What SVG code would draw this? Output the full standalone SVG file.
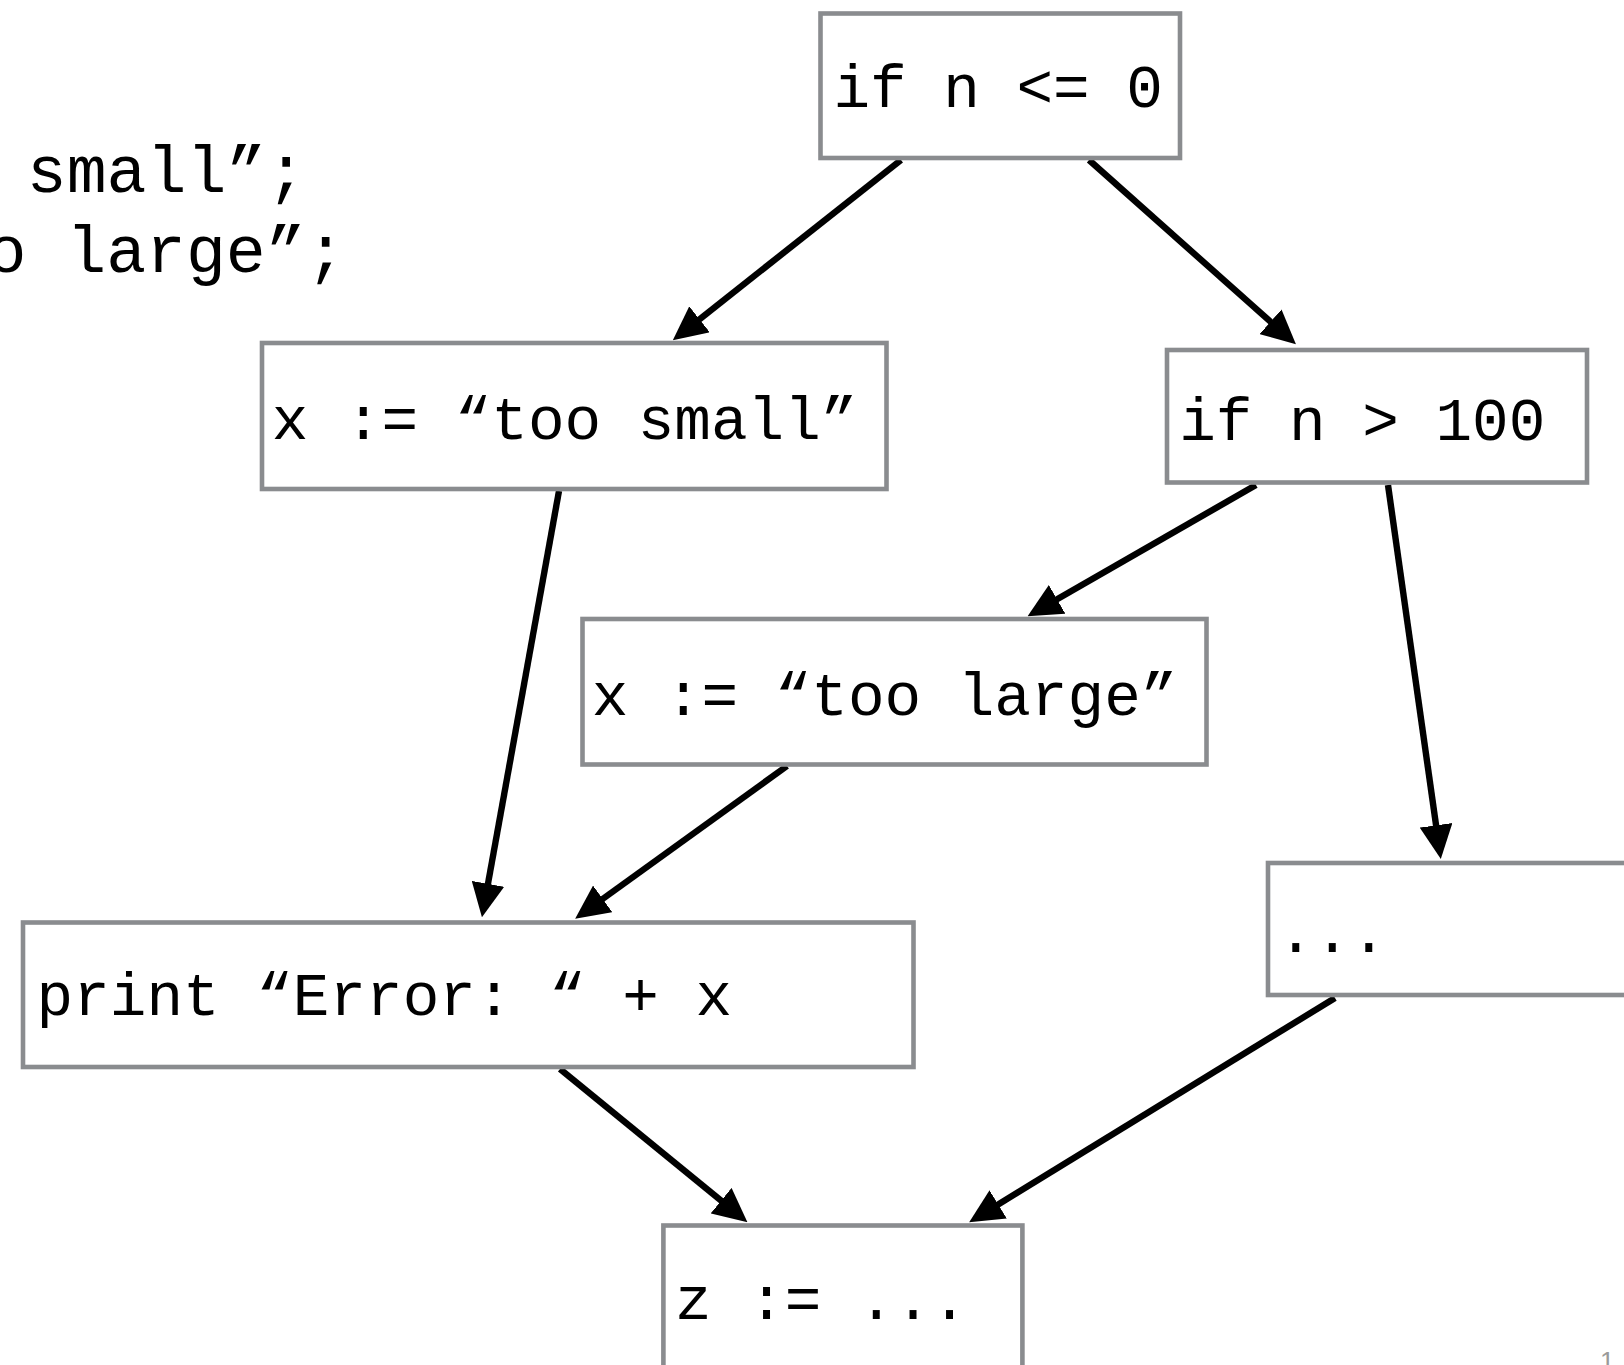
<svg xmlns="http://www.w3.org/2000/svg" width="1624" height="1365" viewBox="0 0 1624 1365">
  <style>
    .box { fill: #ffffff; stroke: #8a8c8f; stroke-width: 4.6; }
    .code { font-family: "Liberation Mono", "DejaVu Sans Mono", monospace; font-size: 61px; fill: #000000; white-space: pre; }
    .src { font-family: "Liberation Mono", "DejaVu Sans Mono", monospace; font-size: 66.5px; fill: #000000; white-space: pre; }
    .edge { fill: none; stroke: #000000; stroke-width: 6.4; marker-end: url(#arrow); }
    .pageno { font-family: "Liberation Sans", Arial, sans-serif; font-size: 26px; fill: #9a9a9a; }
  </style>
  <defs>
    <marker id="arrow" markerUnits="userSpaceOnUse" viewBox="0 0 34 33" markerWidth="34" markerHeight="33" refX="1" refY="16.5" orient="auto">
      <path d="M0,0 L34,16.5 L0,33 Z" fill="#000000"/>
    </marker>
  </defs>

  <rect x="0" y="0" width="1624" height="1365" fill="#ffffff"/>

  <!-- source code fragment at the left edge -->
  <g id="source-code">
    <text class="src" x="26.8" y="191.5">small”;</text>
    <text class="src" x="-13.6" y="272">o large”;</text>
  </g>

  <!-- control-flow connectors -->
  <g id="connectors">
    <line class="edge" x1="901" y1="160" x2="698.7" y2="319.9"/>
    <line class="edge" x1="1089" y1="160" x2="1271.3" y2="322.4"/>
    <line class="edge" x1="559" y1="491" x2="487.8" y2="884.8"/>
    <line class="edge" x1="1256" y1="485" x2="1056.2" y2="599.8"/>
    <line class="edge" x1="1388" y1="485" x2="1436.2" y2="826.3"/>
    <line class="edge" x1="787" y1="766" x2="601.9" y2="899.5"/>
    <line class="edge" x1="560" y1="1069" x2="721.9" y2="1201.3"/>
    <line class="edge" x1="1335" y1="998" x2="997.3" y2="1204.9"/>
  </g>

  <!-- nodes -->
  <g id="node-if-le-0">
    <rect class="box" x="820.5" y="13.5" width="359.5" height="144.5"/>
    <text class="code" x="833.4" y="107">if n &lt;= 0</text>
  </g>
  <g id="node-too-small">
    <rect class="box" x="262" y="343" width="624.5" height="146"/>
    <text class="code" x="271.7" y="439">x := “too small”</text>
  </g>
  <g id="node-if-gt-100">
    <rect class="box" x="1167" y="350" width="420" height="132.5"/>
    <text class="code" x="1179.2" y="440">if n &gt; 100</text>
  </g>
  <g id="node-too-large">
    <rect class="box" x="582.5" y="619" width="624" height="145.5"/>
    <text class="code" x="591.7" y="714.6">x := “too large”</text>
  </g>
  <g id="node-print">
    <rect class="box" x="23" y="922.5" width="890.5" height="144.5"/>
    <text class="code" x="36.6" y="1015">print “Error: “ + x</text>
  </g>
  <g id="node-ellipsis">
    <rect class="box" x="1268" y="863" width="400" height="132"/>
    <text class="code" x="1277.4" y="952">...</text>
  </g>
  <g id="node-z">
    <rect class="box" x="663.4" y="1225.5" width="359" height="200"/>
    <text class="code" x="675" y="1319">z := ...</text>
  </g>

  <!-- slide number -->
  <text class="pageno" x="1600" y="1370">1</text>
</svg>
